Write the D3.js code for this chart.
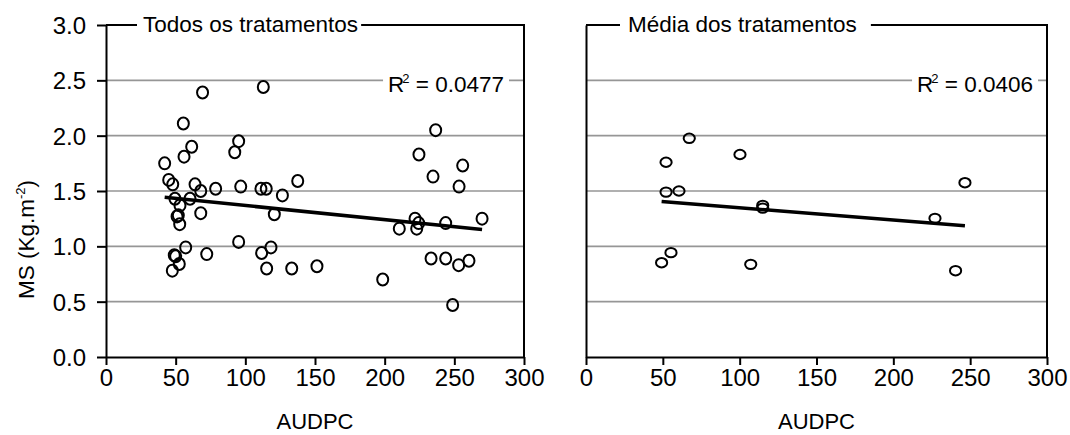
<!DOCTYPE html>
<html>
<head>
<meta charset="utf-8">
<script src="https://cdn.jsdelivr.net/npm/d3@7"></script>
<style>
  html, body { margin: 0; padding: 0; background: #fff; }
  svg { display: block; font-family: "Liberation Sans", Arial, sans-serif; }
</style>
</head>
<body>
<svg id="chart" width="1070" height="435"></svg>
<script>
// Axis ticks
const xTicks = [0, 50, 100, 150, 200, 250, 300];
const yTicks = [0, 0.5, 1.0, 1.5, 2.0, 2.5, 3.0];

// All treatments: AUDPC vs dry matter (MS, kg/m²)
const allAudpc = [69.3, 112.9, 55.5, 61.5, 56.0, 42.1, 95.2, 92.4, 45.0, 47.9,
                  63.9, 68.0, 78.7, 96.7, 111.2, 115.0, 126.6, 137.6, 49.5, 60.3,
                  53.1, 51.9, 51.0, 52.9, 68.0, 120.8, 95.2, 57.2, 49.0, 50.0,
                  72.3, 111.7, 118.4, 52.6, 47.6, 115.3, 133.3, 236.6, 224.6, 256.0,
                  234.7, 253.4, 221.8, 224.4, 223.0, 210.5, 243.8, 269.9, 151.4, 198.6,
                  233.3, 243.8, 253.1, 260.5, 248.8];
const allMs    = [2.39, 2.44, 2.11, 1.90, 1.81, 1.75, 1.95, 1.85, 1.60, 1.56,
                  1.56, 1.50, 1.52, 1.54, 1.52, 1.52, 1.46, 1.59, 1.43, 1.43,
                  1.37, 1.28, 1.27, 1.20, 1.30, 1.29, 1.04, 0.99, 0.92, 0.91,
                  0.93, 0.94, 0.99, 0.84, 0.78, 0.80, 0.80, 2.05, 1.83, 1.73,
                  1.63, 1.54, 1.25, 1.21, 1.16, 1.16, 1.21, 1.25, 0.82, 0.70,
                  0.89, 0.89, 0.83, 0.87, 0.47];

// Treatment means
const meanAudpc = [67.2, 52.1, 100.2, 52.1, 60.5, 246.6, 115.0, 115.0, 227.1, 55.3, 49.2, 107.2, 240.5];
const meanMs    = [1.976, 1.76, 1.83, 1.49, 1.50, 1.575, 1.37, 1.345, 1.253, 0.943, 0.852, 0.837, 0.78];

// Linear trendlines (MS = a + b * AUDPC) and their R²
const panelTitles = ["Todos os tratamentos", "Média dos tratamentos"];
const trendIntercepts = [1.497, 1.459];
const trendSlopes = [-0.00128, -0.00111];
const r2Labels = ["0.0477", "0.0406"];

const svg = d3.select("#chart");
const plotTop = 25, plotBottom = 357;

const panels = [
  { left: 106, right: 524, x: allAudpc, y: allMs, yLabels: true, rx: 5.5, ry: 6,
    titleX: 143, titlePad: [6, 3], r2End: 504 },
  { left: 586, right: 1047, x: meanAudpc, y: meanMs, yLabels: false, rx: 5.6, ry: 4.7,
    titleX: 628, titlePad: [8, 14], r2End: 1033 }
];

panels.forEach((p, i) => {
  const x = d3.scaleLinear().domain([0, 300]).range([p.left, p.right]);
  const y = d3.scaleLinear().domain([0, 3]).range([plotBottom, plotTop]);
  const g = svg.append("g");

  // horizontal gridlines
  g.selectAll("line.grid")
    .data(yTicks.filter(v => v > 0 && v < 3))
    .join("line")
    .attr("class", "grid")
    .attr("x1", p.left).attr("x2", p.right)
    .attr("y1", d => y(d)).attr("y2", d => y(d))
    .attr("stroke", "#969696").attr("stroke-width", 1.7);

  // R² label with white background over the gridline
  const r2 = g.append("text")
    .attr("x", p.r2End).attr("y", 92)
    .attr("text-anchor", "end").attr("font-size", 22.5);
  r2.append("tspan").text("R");
  r2.append("tspan").attr("font-size", 13).attr("dy", -9).attr("dx", -2).text("2");
  r2.append("tspan").attr("dy", 9).text(" = " + r2Labels[i]);
  const rb = r2.node().getBBox();
  g.insert("rect", "text")
    .attr("x", rb.x - 5).attr("y", y(2.5) - 3)
    .attr("width", rb.width + 10).attr("height", 6)
    .attr("fill", "#fff");

  // frame: top and right borders
  g.append("path")
    .attr("d", `M${p.left},${plotTop}H${p.right}V${plotBottom}`)
    .attr("fill", "none").attr("stroke", "#000").attr("stroke-width", 2);

  // panel title sitting on the top border
  const titleBg = g.append("rect").attr("fill", "#fff");
  const title = g.append("text")
    .attr("x", p.titleX).attr("y", 32)
    .attr("font-size", 22.5)
    .text(panelTitles[i]);
  const tb = title.node().getBBox();
  titleBg
    .attr("x", tb.x - p.titlePad[0]).attr("y", plotTop - 3)
    .attr("width", tb.width + p.titlePad[0] + p.titlePad[1]).attr("height", 6);

  // x axis
  const xAxis = g.append("g").attr("transform", `translate(0,${plotBottom})`)
    .call(d3.axisBottom(x).tickValues(xTicks).tickSize(8).tickSizeOuter(0).tickFormat(d3.format("d")));
  xAxis.select(".domain").attr("stroke", "#000").attr("stroke-width", 2);
  xAxis.selectAll(".tick line").attr("stroke", "#000").attr("stroke-width", 2);
  xAxis.selectAll(".tick text")
    .attr("font-size", 24).attr("fill", "#000").attr("font-family", "Liberation Sans, Arial, sans-serif")
    .attr("y", 12).attr("dy", "0.71em");

  // y axis
  const yAxis = g.append("g").attr("transform", `translate(${p.left},0)`)
    .call(d3.axisLeft(y).tickValues(yTicks).tickSize(p.yLabels ? 9 : 0).tickSizeOuter(0)
      .tickFormat(p.yLabels ? d3.format(".1f") : () => ""));
  yAxis.select(".domain").attr("stroke", "#000").attr("stroke-width", 2);
  yAxis.selectAll(".tick line").attr("stroke", "#000").attr("stroke-width", 2);
  yAxis.selectAll(".tick text")
    .attr("font-size", 24).attr("fill", "#000").attr("font-family", "Liberation Sans, Arial, sans-serif")
    .attr("x", -20).attr("dy", "0.36em");

  // axis title
  g.append("text")
    .attr("x", (p.left + p.right) / 2).attr("y", 429)
    .attr("text-anchor", "middle").attr("font-size", 22)
    .text("AUDPC");

  // markers
  const pts = p.x.map((v, k) => [v, p.y[k]]);
  g.selectAll("ellipse")
    .data(pts)
    .join("ellipse")
    .attr("cx", d => x(d[0])).attr("cy", d => y(d[1]))
    .attr("rx", p.rx).attr("ry", p.ry)
    .attr("fill", "none").attr("stroke", "#000").attr("stroke-width", 2);

  // trendline over the observed AUDPC range
  const [x0, x1] = d3.extent(p.x);
  const f = v => trendIntercepts[i] + trendSlopes[i] * v;
  g.append("line")
    .attr("x1", x(x0)).attr("y1", y(f(x0)))
    .attr("x2", x(x1)).attr("y2", y(f(x1)))
    .attr("stroke", "#000").attr("stroke-width", 3.5);
});

// y axis title
svg.append("text")
  .attr("transform", "translate(34,299) rotate(-90)")
  .attr("font-size", 22.5)
  .call(t => {
    t.append("tspan").text("MS (Kg.m");
    t.append("tspan").attr("font-size", 13).attr("dy", -9).text("-2");
    t.append("tspan").attr("dy", 9).text(")");
  });
</script>
</body>
</html>
